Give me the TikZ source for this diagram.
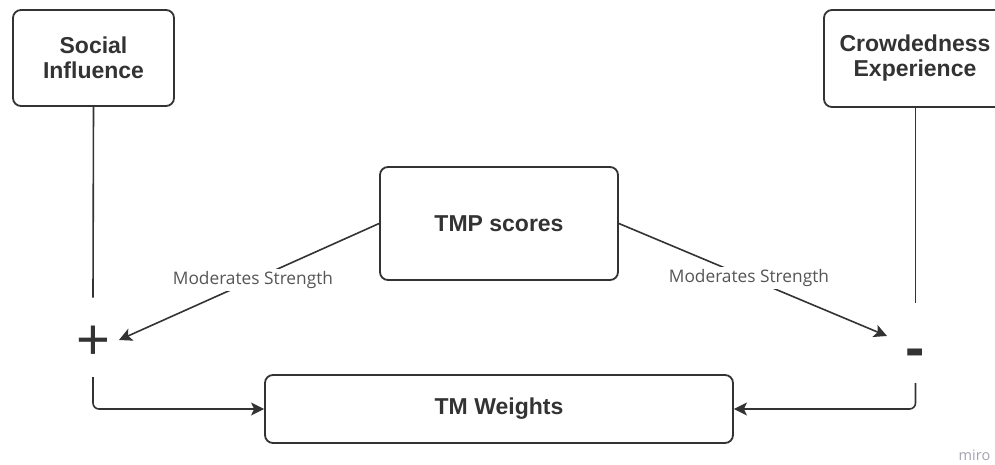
\documentclass[tikz,border=0pt]{standalone}
\usepackage{fontspec}
\setmainfont{Liberation Sans}
\newfontfamily\labelfont{Open Sans}
\usetikzlibrary{arrows.meta}
\definecolor{ink}{HTML}{333333}
\definecolor{labelgray}{HTML}{555555}
\definecolor{brandgray}{HTML}{A3A3B3}
\tikzset{
  box/.style={draw=ink, line width=1.8pt, rounded corners=8pt, fill=white,
    align=center, text=ink, font=\fontsize{23}{25}\selectfont\bfseries, inner sep=0pt},
  conn/.style={draw=ink, line width=1.6pt},
  arr/.style={conn, -{Stealth[length=13pt,width=13pt,inset=3pt]}},
  modlabel/.style={fill=white, text=labelgray, font=\labelfont\fontsize{17.3}{19}\selectfont,
    inner sep=2pt},
  sign/.style={text=ink, inner sep=0pt}
}
\begin{document}
\begin{tikzpicture}[x=1pt,y=-1pt]
  \useasboundingbox (0,0) rectangle (995,464);
  \clip (0,0) rectangle (995,464);

  % boxes
  \node[box, minimum width=161pt, minimum height=96pt] (si) at (93.5,58) {Social\\Influence};
  \node[box, minimum width=182pt, minimum height=97pt] (ce) at (915,58.5) {Crowdedness\\Experience};
  \node[box, minimum width=238pt, minimum height=113pt] (tmp) at (499,223.5) {TMP scores};
  \node[box, minimum width=468pt, minimum height=68pt] (tmw) at (499,409) {TM Weights};

  % signs
  \node[sign, font=\fontsize{58}{58}\selectfont] (plus) at (93,343) {+};
  \node[sign, font=\fontsize{58}{58}\selectfont\bfseries] (minus) at (915.5,358) {-};

  % line end points around the signs
  \coordinate (siend) at (93,297.5);
  \coordinate (plusout) at (93,377);
  \coordinate (ceend) at (915.5,303);
  \coordinate (minusout) at (915.5,383);
  \coordinate (plustip) at (119,340);
  \coordinate (minustip) at (887,336);

  % vertical links from the top boxes
  \draw[conn] (si.south) -- (siend);
  \draw[conn] (ce.south -| ceend) -- (ceend);

  % moderation arrows
  \draw[arr] (tmp.west) -- node[modlabel, pos=0.485] {Moderates Strength} (plustip);
  \draw[arr] (tmp.east) -- node[modlabel, pos=0.485] {Moderates Strength} (minustip);

  % links into TM Weights
  \draw[arr, rounded corners=6pt] (plusout) |- (tmw.west);
  \draw[arr, rounded corners=6pt] (minusout) |- (tmw.east);

  % brand mark
  \node[text=brandgray, font=\labelfont\fontsize{14.5}{14.5}\selectfont, inner sep=0pt] (brand) at (974.5,455) {miro};
\end{tikzpicture}
\end{document}
